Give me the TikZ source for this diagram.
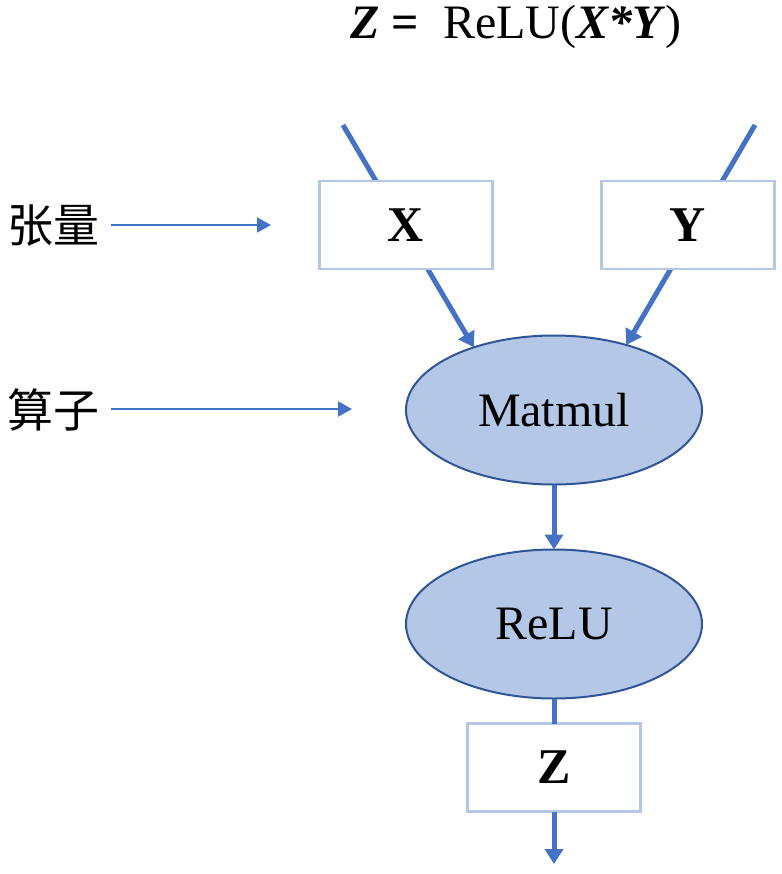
\documentclass[tikz,border=0pt]{standalone}
\usepackage{fontspec}
\setmainfont{Liberation Serif}
\newfontfamily\cjkfont{Noto Sans CJK SC}
\usetikzlibrary{positioning}
\usetikzlibrary{arrows.meta,shapes.geometric,backgrounds}
\definecolor{flowblue}{HTML}{4472C4}
\definecolor{opfill}{HTML}{B4C7E7}
\definecolor{opline}{HTML}{2F5597}
\definecolor{boxline}{HTML}{B4C7E7}

\begin{document}
\begin{tikzpicture}[x=0.5pt,y=-0.5pt,
	tensor/.style={minimum width=86.5pt,minimum height=44pt,inner sep=0pt,outer sep=0pt,draw=boxline,line width=1.2pt,fill=white,font=\fontsize{25}{30}\selectfont\bfseries},
	op/.style={ellipse,minimum width=148pt,minimum height=74.5pt,inner sep=0pt,outer sep=0pt,draw=opline,line width=1pt,fill=opfill,font=\fontsize{24}{28}\selectfont},
	flow/.style={draw=flowblue,line width=2.5pt},
	flowarr/.style={flow,-{Triangle[length=7.5pt,width=9pt]}},
	hint/.style={draw=flowblue,line width=1pt,-{Triangle[length=7pt,width=7.5pt]}},
	lbl/.style={font=\fontsize{23}{28}\selectfont\cjkfont,inner sep=0pt,outer sep=5.5pt}]
	\useasboundingbox (0,0) rectangle (782,874);

	\node [anchor=base,font=\fontsize{24}{28}\selectfont] at (516,38) (formula) {\textbf{\textit{Z} =}\ \ ReLU(\textbf{\textit{X*Y}})};

	\node [tensor] at (406,225) (x_in) {X};
	\node [tensor,right=54.5pt of x_in] (y_in) {Y};
	\node [op] at (554,410) (matmul) {Matmul};
	\node [op,below=32.5pt of matmul] (relu) {ReLU};
	\node [tensor,below=12.5pt of relu] (z_out) {Z};

	\coordinate (x_src) at (343,125);
	\coordinate (y_src) at (755,125);
	\coordinate (z_dst) at (554,864);

	\begin{pgfonlayer}{background}
		\draw[flowarr] (x_src) -- (matmul.142);
		\draw[flowarr] (y_src) -- (matmul.42);
	\end{pgfonlayer}
	\draw[flowarr] (matmul) -- (relu);
	\draw[flow] (relu) -- (z_out);
	\draw[flowarr] (z_out) -- (z_dst);

	% legend on the left
	\node [lbl] at (54,226) (tensor_lbl) {张量};
	\node [lbl] at (54,410) (op_lbl) {算子};
	\coordinate (tensor_tip) at (271,225);
	\coordinate (op_tip) at (352,409);
	\draw[hint] (tensor_lbl.east |- tensor_tip) -- (tensor_tip);
	\draw[hint] (op_lbl.east |- op_tip) -- (op_tip);
\end{tikzpicture}
\end{document}
